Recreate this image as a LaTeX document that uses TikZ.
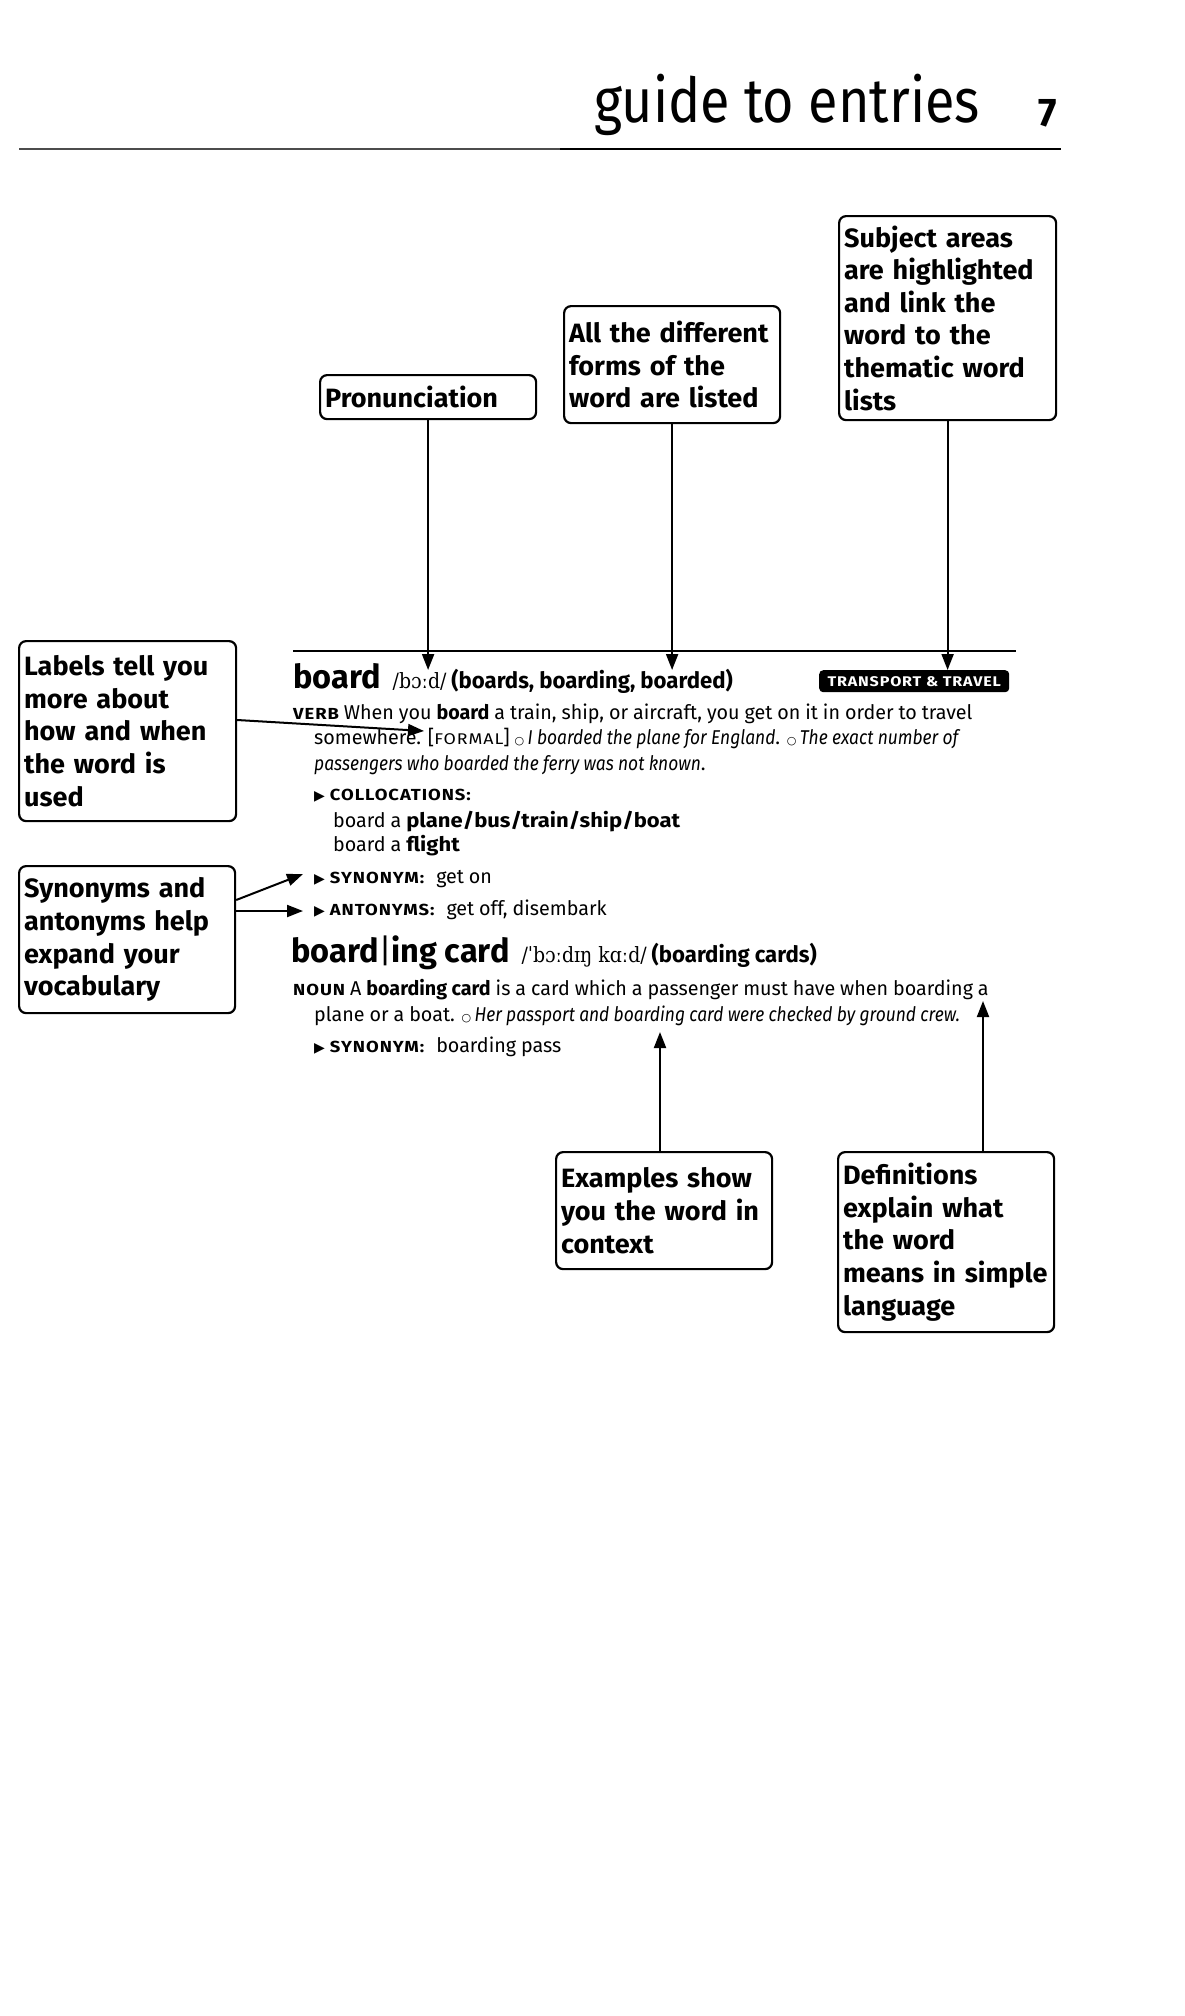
\documentclass[tikz,border=0pt]{standalone}
\usepackage{fontspec}
\setmainfont{Fira Sans}[FakeStretch=0.985, WordSpace=0.95, ItalicFeatures={FakeStretch=0.87}]
\newfontfamily\boxfont{Fira Sans}[FakeStretch=1.02, WordSpace=0.65]
\newfontfamily\titlefont{Fira Sans}[FakeStretch=0.87]
\newfontfamily\scfont{Fira Sans}[FakeStretch=1.15, LetterSpace=6]
\newfontfamily\colfont{Fira Sans}[FakeStretch=1.1]
\newfontfamily\ipafont{DejaVu Serif Condensed}
\newfontfamily\symfont{DejaVu Sans}
\usetikzlibrary{arrows.meta}
\newcommand\bsc[1]{{\scfont\bfseries\fontsize{16}{16}\selectfont #1}}
\newcommand\rsc[1]{{\scfont\fontsize{15.5}{15.5}\selectfont #1}}
\newcommand\cbf[1]{{\colfont\bfseries #1}}
\newcommand\tri{{\symfont\fontsize{14}{14}\selectfont ▶}}
\newcommand\exo{{\symfont\fontsize{11}{11}\selectfont ○}}
\begin{document}
\begin{tikzpicture}[x=1pt,y=-1pt,
  infobox/.style={draw, line width=2.2pt, rounded corners=7pt, anchor=north west,
     inner xsep=5pt, inner ysep=3pt, align=left,
     font=\boxfont\bfseries\fontsize{26.5}{32.6}\selectfont},
  arr/.style={line width=2pt, -{Triangle[length=16pt,width=12pt]}},
  txt/.style={anchor=base west, inner sep=0pt, font=\fontsize{20}{20}\selectfont}]
\useasboundingbox[fill=white] (0,0) rectangle (1184,2016);

% title
\node[anchor=base east, inner sep=0pt, font=\titlefont\fontsize{62}{62}\selectfont] (title) at (980,122) {guide to entries};
\node[anchor=base west, inner sep=0pt, font=\fontsize{40}{40}\bfseries] (pnum) at (1038,126) {7};
\draw[line width=1.6pt, black!70] (19,149) -- (560,149);
\draw[line width=2.4pt] (560,149) -- (1061,149);

% boxes
\node[infobox, minimum width=216pt, minimum height=44pt, text width=206pt] (pron) at (319,374) {Pronunciation};
\node[infobox, minimum width=216pt, minimum height=117pt, text width=206pt] (forms) at (563,305) {All the different\\forms of the\\word are listed};
\node[infobox, minimum width=217pt, minimum height=204pt, text width=207pt] (subj) at (838,215) {Subject areas\\are highlighted\\and link the\\word to the\\thematic word\\lists};
\node[infobox, minimum width=217pt, minimum height=180pt, text width=207pt] (labels) at (18,640) {Labels tell you\\more about\\how and when\\the word is\\used};
\node[infobox, minimum width=216pt, minimum height=147pt, text width=206pt] (syn) at (18,865) {Synonyms and\\antonyms help\\expand your\\vocabulary};
\node[infobox, minimum width=216pt, minimum height=117pt, text width=206pt] (examples) at (555,1151) {Examples show\\you the word in\\context};
\node[infobox, minimum width=216pt, minimum height=180pt, text width=206pt] (defs) at (837,1151) {Definitions\\explain what\\the word\\means in simple\\language};

% entry
\draw[line width=2.4pt] (293,651) -- (1016,651);
\node[txt] (hw) at (293,688) {{\fontsize{33}{33}\bfseries board}\hspace{12pt}{\ipafont\fontsize{21}{21}\selectfont /bɔːd/} {\fontsize{22.5}{22.5}\bfseries (boards, boarding, boarded)}};
\node[anchor=north west, fill=black, rounded corners=4pt, minimum width=190pt, minimum height=22pt, inner sep=0pt,
      text=white, font=\scfont\fontsize{14}{14}\bfseries] (badge) at (819,670) {TRANSPORT \& TRAVEL};
\node[txt] (l1) at (293,719) {\bsc{VERB} When you \textbf{board} a train, ship, or aircraft, you get on it in order to travel};
\node[txt] (l2) at (314,744) {somewhere. [\rsc{FORMAL}] \exo\,\textit{I boarded the plane for England}. \exo\,\textit{The exact number of}};
\node[txt] (l3) at (314,770) {\textit{passengers who boarded the ferry was not known}.};
\node[txt] (l4) at (314,800) {\tri\ \bsc{COLLOCATIONS:}};
\node[txt] (l5) at (333,827) {board a \cbf{plane/bus/train/ship/boat}};
\node[txt] (l6) at (333,851) {board a \cbf{flight}};
\node[txt] (l7) at (314,883) {\tri\ \bsc{SYNONYM:}\hspace{12pt}get on};
\node[txt] (l8) at (314,915) {\tri\ \bsc{ANTONYMS:}\hspace{12pt}get off, disembark};
\node[txt] (hw2) at (291,962) {{\fontsize{33}{33}\bfseries board{\mdseries|}ing card}\hspace{12pt}{\ipafont\fontsize{21}{21}\selectfont /ˈbɔːdɪŋ kɑːd/} {\fontsize{22.5}{22.5}\bfseries (boarding cards)}};
\node[txt] (n1) at (293,995) {\bsc{NOUN} A \textbf{boarding card} is a card which a passenger must have when boarding a};
\node[txt] (n2) at (314,1021) {plane or a boat. \exo\,\textit{Her passport and boarding card were checked by ground crew.}};
\node[txt] (n3) at (314,1052) {\tri\ \bsc{SYNONYM:}\hspace{12pt}boarding pass};

% connectors
\coordinate (tipY) at (0,670);
\draw[arr] (pron.south) -- (pron.south |- tipY);
\draw[arr] (forms.south) -- (forms.south |- tipY);
\draw[arr] (subj.south) -- (subj.south |- tipY);
\coordinate (labStart) at (0,720);
\coordinate (labTip) at (424,731);
\draw[arr] (labels.east |- labStart) -- (labTip);
\coordinate (synA) at (0,900);
\coordinate (synTipA) at (303,874);
\coordinate (synB) at (0,911);
\coordinate (synTipB) at (303,911);
\draw[arr] (syn.east |- synA) -- (synTipA);
\draw[arr] (syn.east |- synB) -- (synTipB);
\coordinate (exTip) at (660,1032);
\draw[arr] (examples.north -| exTip) -- (exTip);
\coordinate (defTip) at (983,1001);
\draw[arr] (defs.north -| defTip) -- (defTip);
\end{tikzpicture}
\end{document}
